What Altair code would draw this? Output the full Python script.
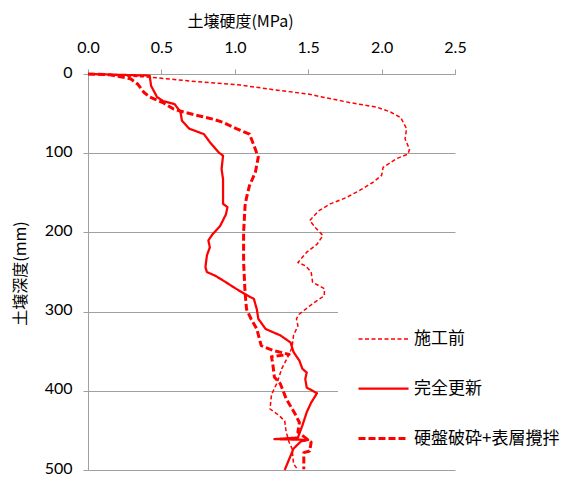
import altair as alt
import pandas as pd

series_names = ["施工前", "完全更新", "硬盤破砕+表層攪拌"]

# 施工前 (thin dashed)
before_mpa = [0.0, 0.42, 0.70, 1.04, 1.31, 1.49, 1.78, 1.97, 2.06, 2.13, 2.17, 2.16, 2.19, 2.18,
              2.10, 2.01, 2.00, 1.94, 1.85, 1.76, 1.65, 1.57, 1.51, 1.55, 1.60, 1.56, 1.49, 1.43,
              1.48, 1.52, 1.53, 1.61, 1.61, 1.53, 1.44, 1.42, 1.43, 1.40, 1.39, 1.37, 1.32, 1.29,
              1.25, 1.24, 1.30, 1.34, 1.35, 1.37, 1.39, 1.40, 1.43]
before_depth = [0, 4, 9, 14, 21, 25, 36, 42, 48, 55, 69, 82, 95, 101,
                107, 118, 128, 137, 147, 156, 164, 173, 185, 194, 204, 215, 225, 238,
                242, 250, 263, 271, 280, 290, 303, 309, 318, 330, 345, 354, 372, 389,
                405, 423, 431, 438, 452, 465, 473, 492, 500]

# 完全更新 (solid)
full_mpa = [0.0, 0.42, 0.43, 0.47, 0.51, 0.59, 0.63, 0.64, 0.69, 0.79, 0.83, 0.89, 0.92, 0.91,
            0.92, 0.92, 0.92, 0.95, 0.94, 0.90, 0.85, 0.82, 0.83, 0.81, 0.80, 0.81, 0.87, 0.94,
            0.99, 1.07, 1.13, 1.15, 1.16, 1.21, 1.31, 1.38, 1.40, 1.44, 1.46, 1.49, 1.48, 1.49,
            1.56, 1.52, 1.49, 1.46, 1.43, 1.27, 1.50, 1.45, 1.40, 1.34]
full_depth = [0, 2, 15, 29, 34, 38, 48, 59, 69, 76, 86, 99, 103, 120,
              133, 149, 164, 168, 177, 192, 202, 210, 219, 229, 244, 250, 255, 263,
              269, 278, 284, 297, 309, 322, 330, 339, 351, 362, 372, 377, 385, 396,
              403, 415, 427, 444, 459, 461, 462, 464, 473, 500]

# 硬盤破砕+表層攪拌 (thick dashed)
hard_mpa = [0.0, 0.15, 0.29, 0.34, 0.38, 0.42, 0.51, 0.58, 0.65, 0.76, 0.85, 0.92, 1.01, 1.10,
            1.13, 1.16, 1.14, 1.10, 1.08, 1.07, 1.06, 1.06, 1.07, 1.08, 1.11, 1.15, 1.18, 1.26,
            1.37, 1.25, 1.26, 1.27, 1.31, 1.35, 1.41, 1.44, 1.43, 1.52, 1.51, 1.47, 1.47]
hard_depth = [0, 1, 6, 13, 23, 29, 36, 44, 48, 53, 57, 61, 69, 76,
              90, 105, 124, 141, 156, 166, 200, 238, 276, 297, 309, 322, 343, 349,
              354, 357, 368, 383, 391, 410, 429, 440, 452, 465, 476, 478, 499]

x_ticks = [0.0, 0.5, 1.0, 1.5, 2.0, 2.5]
y_ticks = [0, 100, 200, 300, 400, 500]

rows = []
for name, xs, ds in zip(series_names, [before_mpa, full_mpa, hard_mpa],
                        [before_depth, full_depth, hard_depth]):
    for i, (xv, dv) in enumerate(zip(xs, ds)):
        rows.append({"series": name, "mpa": xv, "depth": dv, "i": i})
df = pd.DataFrame(rows)

CJK = "Noto Sans CJK JP"
NUM = "Lato"
AX = "#a0a0a0"

legend = alt.Legend(
    title=None, orient="none", legendX=250, legendY=234,
    fillColor="white", padding=5, symbolOffset=14, symbolType="stroke",
    symbolSize=2500, labelFont=CJK, labelFontSize=17, labelOffset=4,
    labelColor="black", rowPadding=15,
)

chart = alt.Chart(df).mark_line(strokeJoin="round").encode(
    x=alt.X("mpa:Q",
            scale=alt.Scale(domain=[0, 2.5], nice=False, zero=True),
            axis=alt.Axis(orient="top", values=x_ticks, format=".1f",
                          title="土壌硬度(MPa)", grid=False,
                          domainColor=AX, tickColor=AX, tickSize=5,
                          labelFont=NUM, labelFontSize=16, labelColor="black",
                          labelPadding=14, labelFlush=False,
                          titleFont=CJK, titleFontSize=16, titleFontWeight="normal",
                          titleColor="black", titleX=152, titleY=-53,
                          titleAlign="center", titleBaseline="middle")),
    y=alt.Y("depth:Q",
            scale=alt.Scale(domain=[0, 500], reverse=True, nice=False),
            axis=alt.Axis(values=y_ticks, grid=True, gridColor=AX,
                          domainColor=AX, tickColor=AX, tickSize=5,
                          labelFont=NUM, labelFontSize=16, labelColor="black",
                          labelPadding=11, labelOffset=-2,
                          title="土壌深度(mm)",
                          titleFont=CJK, titleFontSize=16, titleFontWeight="normal",
                          titleColor="black", titleX=-68, titleY=199, titleAngle=-90,
                          titleAlign="center", titleBaseline="middle")),
    color=alt.Color("series:N",
                    scale=alt.Scale(domain=series_names, range=["#ff0000"] * 3),
                    legend=legend),
    strokeDash=alt.StrokeDash("series:N",
                              scale=alt.Scale(domain=series_names,
                                              range=[[4, 2.5], [1, 0], [7, 3]]),
                              legend=legend),
    strokeWidth=alt.StrokeWidth("series:N",
                                scale=alt.Scale(domain=series_names, range=[1.5, 3, 3]),
                                legend=legend),
    order=alt.Order("i:Q"),
).properties(
    width=367, height=396,
    padding={"left": 80, "top": 66, "right": 113, "bottom": 5},
    autosize=alt.AutoSizeParams(type="none"),
).configure_view(stroke=None).configure_axis(gridWidth=1, domainWidth=1, tickWidth=1)

chart.save("out.html", embed_options={"renderer": "svg", "actions": False})
